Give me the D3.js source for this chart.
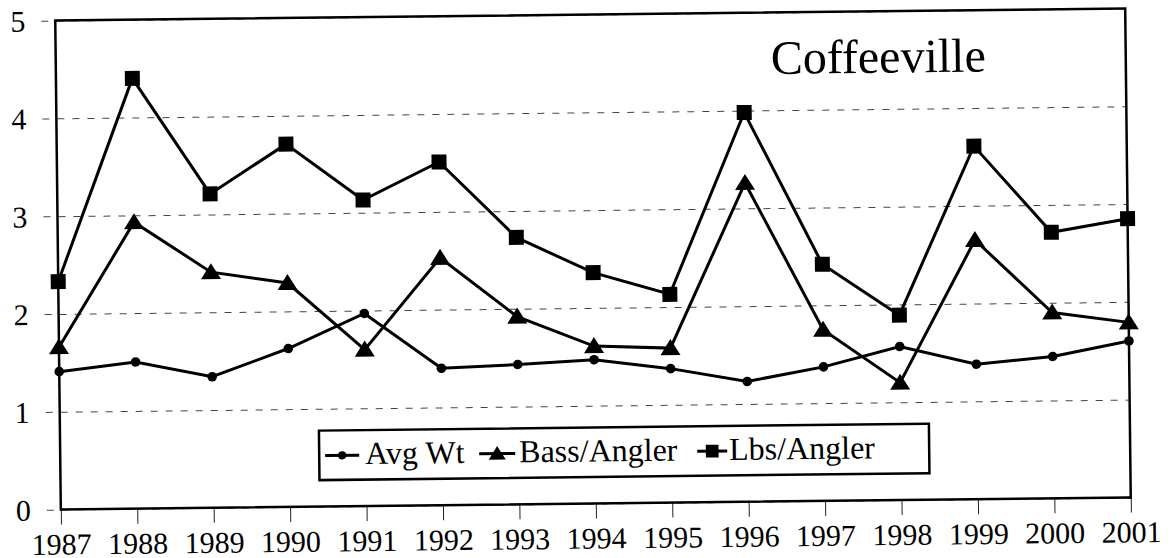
<!DOCTYPE html>
<html>
<head>
<meta charset="utf-8">
<script src="https://cdn.jsdelivr.net/npm/d3@7"></script>
<style>
  body { margin: 0; background: #fff; }
  .grid line { stroke: #444; stroke-width: 1; stroke-dasharray: 7,8; }
  .grid path, .xaxis path { display: none; }
  .xaxis line { stroke: #222; stroke-width: 1; }
</style>
</head>
<body>
<div id="chart"></div>
<script>
// data
var years = ["1987","1988","1989","1990","1991","1992","1993","1994","1995","1996","1997","1998","1999","2000","2001"];
var avgWt = [1.41,1.50,1.34,1.62,1.97,1.40,1.43,1.47,1.37,1.23,1.37,1.57,1.38,1.45,1.60];
var bassPerAngler = [1.66,2.93,2.41,2.29,1.60,2.53,1.92,1.61,1.58,3.26,1.75,1.20,2.65,1.90,1.79];
var lbsPerAngler = [2.33,4.40,3.21,3.71,3.13,3.51,2.73,2.36,2.13,3.98,2.42,1.89,3.61,2.72,2.85];
var yTicks = [0,1,2,3,4,5];
var seriesNames = ["Avg Wt","Bass/Angler","Lbs/Angler"];

var serif = "'Liberation Serif'";

var svgWidth = 1173;
var svgHeight = 558;

var margin = {top: 14.5, right: 45, bottom: 54.5, left: 58};
var width = svgWidth - margin.left - margin.right;
var height = svgHeight - margin.top - margin.bottom;

var svg = d3.select("#chart")
  .append("svg")
  .attr("width", svgWidth)
  .attr("height", svgHeight);

// the scan is a little tilted
var chartGroup = svg.append("g")
  .attr("transform", `rotate(-0.65, 593, 259) translate(${margin.left}, ${margin.top})`);

var xScale = d3.scalePoint()
  .domain(years)
  .range([0, width]);

var yScale = d3.scaleLinear()
  .domain([0, 5])
  .range([height, 0]);

// gridlines + y labels
var yAxis = chartGroup.append("g")
  .attr("class", "grid")
  .call(d3.axisLeft(yScale).tickValues(yTicks).tickSize(-width).tickPadding(30).tickFormat(d3.format("d")));
yAxis.selectAll("line").attr("x1", -14);
yAxis.selectAll("text")
  .style("font-family", serif)
  .style("font-size", "30px")
  .attr("fill", "#000")
  .attr("dy", "0.34em");

// x axis ticks + labels
var xAxis = chartGroup.append("g")
  .attr("class", "xaxis")
  .attr("transform", `translate(0, ${height})`)
  .call(d3.axisBottom(xScale).tickSize(15));
xAxis.selectAll("text")
  .style("font-family", serif)
  .style("font-size", "30px")
  .attr("fill", "#000")
  .attr("y", 45)
  .attr("dy", 0);

// series
var series = [
  {name: seriesNames[0], values: avgWt, marker: "circle"},
  {name: seriesNames[1], values: bassPerAngler, marker: "triangle"},
  {name: seriesNames[2], values: lbsPerAngler, marker: "square"}
];

var line = d3.line()
  .x((d, i) => xScale(years[i]))
  .y(d => yScale(d));

function drawMarker(g, type, big) {
  var k = big ? 1 : 0.85;
  if (type == "circle") {
    g.append("circle").attr("r", 4.8 * k).attr("fill", "#000");
  } else if (type == "triangle") {
    g.append("path").attr("d", `M0,${-9*k} L${10*k},${7*k} L${-10*k},${7*k} Z`).attr("fill", "#000");
  } else {
    g.append("rect").attr("x", -7.5 * k).attr("y", -7.5 * k)
      .attr("width", 15 * k).attr("height", 15 * k).attr("fill", "#000");
  }
}

series.forEach(function(s) {
  chartGroup.append("path")
    .datum(s.values)
    .attr("fill", "none")
    .attr("stroke", "#000")
    .attr("stroke-width", 3)
    .attr("stroke-linejoin", "miter")
    .attr("d", line);

  s.values.forEach(function(v, i) {
    var g = chartGroup.append("g")
      .attr("transform", `translate(${xScale(years[i])}, ${yScale(v)})`);
    drawMarker(g, s.marker, true);
  });
});

// plot frame
chartGroup.append("rect")
  .attr("x", 0)
  .attr("y", 0)
  .attr("width", width)
  .attr("height", height)
  .attr("fill", "none")
  .attr("stroke", "#000")
  .attr("stroke-width", 2.5);

// title
chartGroup.append("text")
  .attr("x", 773 - margin.left)
  .attr("y", 76 - margin.top)
  .style("font-family", serif)
  .style("font-size", "48px")
  .text("Coffeeville");

// legend
var legend = chartGroup.append("g")
  .attr("transform", `translate(${317 - margin.left}, ${427.5 - margin.top})`);

legend.append("rect")
  .attr("width", 610)
  .attr("height", 49.5)
  .attr("fill", "#fff")
  .attr("stroke", "#000")
  .attr("stroke-width", 2.5);

var legendItems = [
  {x1: 6, x2: 40, text: 46},
  {x1: 160, x2: 196, text: 200},
  {x1: 378, x2: 408, text: 410}
];

series.forEach(function(s, i) {
  var it = legendItems[i];
  legend.append("line")
    .attr("x1", it.x1).attr("x2", it.x2)
    .attr("y1", 25).attr("y2", 25)
    .attr("stroke", "#000").attr("stroke-width", 3);
  var g = legend.append("g")
    .attr("transform", `translate(${(it.x1 + it.x2) / 2}, 25)`);
  drawMarker(g, s.marker, false);
  legend.append("text")
    .attr("x", it.text)
    .attr("y", 34)
    .style("font-family", serif)
    .style("font-size", "32px")
    .text(s.name);
});
</script>
</body>
</html>
